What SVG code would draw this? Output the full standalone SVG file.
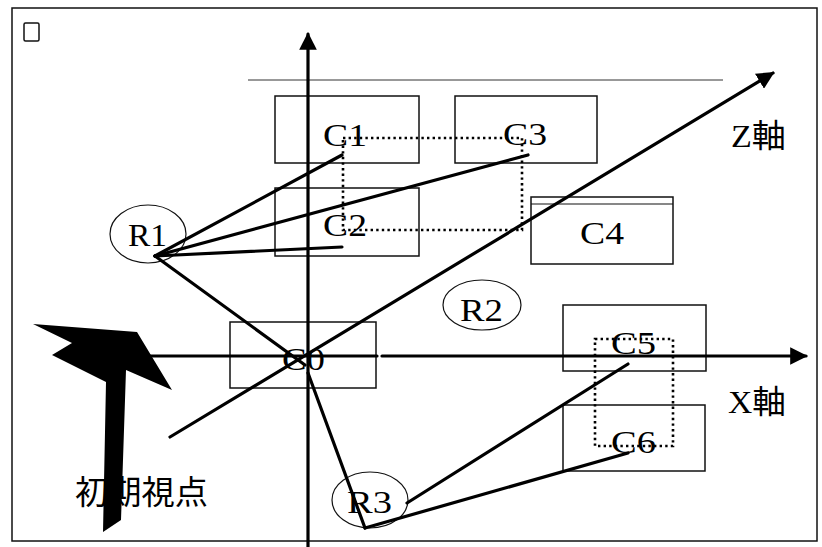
<svg xmlns="http://www.w3.org/2000/svg" width="822" height="547" viewBox="0 0 822 547">
<style>
.box{fill:none;stroke:#111;stroke-width:1.5}
.lbl{font-family:"Liberation Serif",serif;font-size:31px;fill:#000}
.ax{font-family:"Liberation Serif","Noto Sans CJK JP",serif;font-size:32px;fill:#000}
.ell{fill:none;stroke:#111;stroke-width:1.2}
.ln{stroke:#000;stroke-width:3.2;fill:none;stroke-linecap:round}
.dot{stroke:#000;stroke-width:2.6;fill:none;stroke-dasharray:2.4 3.2}
</style>
<defs>
<marker id="ah" viewBox="0 0 10 10" refX="9" refY="5" markerWidth="5.5" markerHeight="5.5" orient="auto" markerUnits="strokeWidth">
<path d="M0,0 L10,5 L0,10 z" fill="#000"/>
</marker>
</defs>
<rect x="12" y="8" width="805" height="533" fill="#fff" stroke="#111" stroke-width="1.5"/>
<rect x="24" y="23" width="15" height="18" rx="1.5" fill="none" stroke="#111" stroke-width="1.5"/>
<line x1="248" y1="80" x2="723" y2="80" stroke="#333" stroke-width="1"/>

<g id="C1"><rect class="box" x="275" y="96" width="144" height="67"/><text class="lbl" x="323" y="146" textLength="44" lengthAdjust="spacingAndGlyphs">C1</text></g>
<g id="C2"><rect class="box" x="275" y="188" width="144" height="68"/><text class="lbl" x="323" y="236" textLength="44" lengthAdjust="spacingAndGlyphs">C2</text></g>
<g id="C3"><rect class="box" x="455" y="96" width="142" height="67"/><text class="lbl" x="503" y="145" textLength="44" lengthAdjust="spacingAndGlyphs">C3</text></g>
<g id="C4"><rect class="box" x="531" y="197" width="142" height="67"/><line x1="531" y1="204" x2="673" y2="204" stroke="#111" stroke-width="1.2"/><text class="lbl" x="580" y="244" textLength="44" lengthAdjust="spacingAndGlyphs">C4</text></g>
<g id="C0"><rect class="box" x="230" y="322" width="146" height="66"/><text class="lbl" x="282" y="370" textLength="43" lengthAdjust="spacingAndGlyphs">C0</text></g>
<g id="C5"><rect class="box" x="563" y="305" width="143" height="66"/><text class="lbl" x="611" y="354" textLength="45" lengthAdjust="spacingAndGlyphs">C5</text></g>
<g id="C6"><rect class="box" x="563" y="405" width="142" height="66"/><text class="lbl" x="611" y="453" textLength="45" lengthAdjust="spacingAndGlyphs">C6</text></g>

<g id="R1"><ellipse class="ell" cx="148" cy="234" rx="38" ry="29"/><text class="lbl" x="128" y="246" textLength="39" lengthAdjust="spacingAndGlyphs">R1</text></g>
<g id="R2"><ellipse class="ell" cx="482" cy="305" rx="39" ry="25"/><text class="lbl" x="460" y="321" textLength="43" lengthAdjust="spacingAndGlyphs">R2</text></g>
<g id="R3"><ellipse class="ell" cx="370" cy="500" rx="38" ry="28"/><text class="lbl" x="347" y="513" textLength="45" lengthAdjust="spacingAndGlyphs">R3</text></g>

<g id="viewpoint">
<text x="75" y="504" font-family="'Noto Sans CJK JP',sans-serif" font-size="33" textLength="133" lengthAdjust="spacingAndGlyphs" fill="#000">初期視点</text>
<polygon points="33,324 137,332 172,390 126,370 121,520 103,532 106,382 52,355 72,343" fill="#000"/>
</g>

<g id="axes">
<line class="ln" x1="308" y1="547" x2="308" y2="34" marker-end="url(#ah)"/>
<line class="ln" x1="150" y1="356" x2="377" y2="356"/>
<line class="ln" x1="382" y1="356" x2="806" y2="356" marker-end="url(#ah)"/>
<line class="ln" x1="170" y1="437" x2="773" y2="73" marker-end="url(#ah)"/>
<text class="ax" x="731" y="147" textLength="55" lengthAdjust="spacingAndGlyphs">Z軸</text>
<text class="ax" x="728" y="413" textLength="58" lengthAdjust="spacingAndGlyphs">X軸</text>
</g>

<g id="connectors">
<line class="ln" x1="155" y1="256" x2="342" y2="155"/>
<line class="ln" x1="155" y1="256" x2="528" y2="155"/>
<line class="ln" x1="155" y1="256" x2="342" y2="247"/>
<line class="ln" x1="155" y1="256" x2="305" y2="365"/>
<line class="ln" x1="308" y1="373" x2="365" y2="528" stroke-width="2.6"/>
<line class="ln" x1="365" y1="528" x2="628" y2="453"/>
<line class="ln" x1="407" y1="503" x2="628" y2="364"/>
<rect class="dot" x="343" y="138" width="179" height="92"/>
<rect class="dot" x="595" y="339" width="78" height="107"/>
</g>
</svg>
